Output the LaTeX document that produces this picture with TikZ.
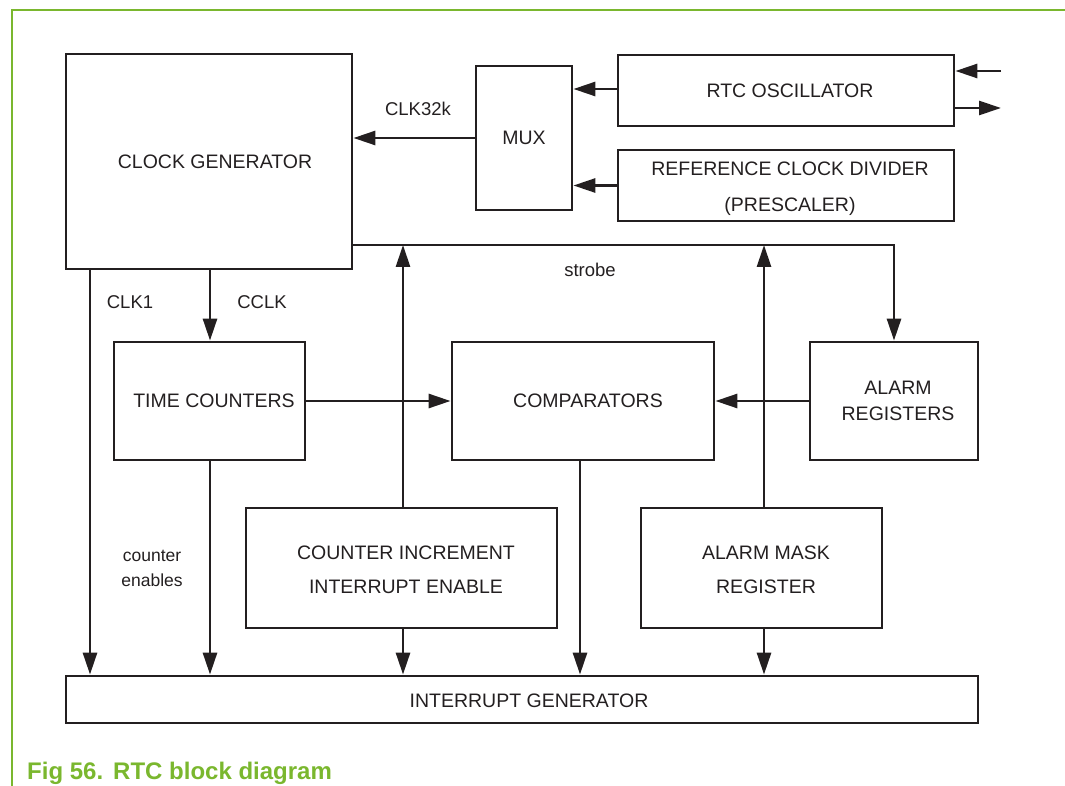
\documentclass[tikz,border=0pt]{standalone}
\usepackage{fontspec}
\setmainfont{Liberation Sans}
\usetikzlibrary{arrows.meta}
\definecolor{ink}{HTML}{231F20}
\definecolor{nxpgreen}{HTML}{7AB72E}
\tikzset{
  box/.style={draw=ink, line width=2.8pt, inner sep=0pt},
  btext/.style={text=ink, align=center, inner sep=0pt, font=\fontsize{19.5}{36}\selectfont},
  wire/.style={draw=ink, line width=2.8pt, -{Triangle[length=22pt,width=14pt]}},
  lbl/.style={text=ink, font=\fontsize{18.5}{25}\selectfont, inner sep=0pt, align=center},
}
\begin{document}
\begin{tikzpicture}[x=1pt,y=-1pt]
\useasboundingbox (0,0) rectangle (1065,786);
% frame
\draw[nxpgreen, line width=1.6pt] (12,786) -- (12,10) -- (1065,10);
\node[anchor=base west, text=nxpgreen, inner sep=0pt, font=\fontsize{24}{27}\selectfont\bfseries] (cap) at (27,779) {Fig 56.\hspace{10pt}RTC block diagram};
% boxes
\node[box, minimum width=286pt, minimum height=215pt] (cg) at (209,161.5) {};
\node[btext] (cgt) at (215,161.5) {CLOCK GENERATOR};
\node[box, minimum width=96pt, minimum height=144pt] (mux) at (524,138) {};
\node[btext] (muxt) at (524,138) {MUX};
\node[box, minimum width=336pt, minimum height=71pt] (osc) at (786,90.5) {};
\node[btext] (osct) at (790,90.5) {RTC OSCILLATOR};
\node[box, minimum width=336pt, minimum height=71pt] (ref) at (786,185.5) {};
\node[btext] (reft) at (790,189) {REFERENCE CLOCK DIVIDER\\(PRESCALER)};
\node[box, minimum width=191pt, minimum height=118pt] (tc) at (209.5,401) {};
\node[btext] (tct) at (214,401) {TIME COUNTERS};
\node[box, minimum width=262pt, minimum height=118pt] (cmp) at (583,401) {};
\node[btext] (cmpt) at (588,401) {COMPARATORS};
\node[box, minimum width=168pt, minimum height=118pt] (ar) at (894,401) {};
\node[btext, font=\fontsize{19.5}{26}\selectfont] (art) at (898,401) {ALARM\\REGISTERS};
\node[box, minimum width=311pt, minimum height=120pt] (cie) at (401.5,568) {};
\node[btext, font=\fontsize{19.5}{34}\selectfont] (ciet) at (406,570) {COUNTER INCREMENT\\INTERRUPT ENABLE};
\node[box, minimum width=241pt, minimum height=120pt] (am) at (761.5,568) {};
\node[btext, font=\fontsize{19.5}{34}\selectfont] (amt) at (766,570) {ALARM MASK\\REGISTER};
\node[box, minimum width=912pt, minimum height=47pt] (ig) at (522,699.5) {};
\node[btext] (igt) at (529,701) {INTERRUPT GENERATOR};
% external oscillator pins
\coordinate (xin) at (1001,71);
\coordinate (xout) at (1001,108);
\draw[wire] (xin) -- (osc.east |- xin);
\draw[wire] (osc.east |- xout) -- (xout);
% mux connections
\draw[wire] (osc.west |- 0,89) -- (mux.east |- 0,89);
\draw[wire] (ref.west) -- (mux.east |- ref.west);
\draw[wire] (mux.west) -- (cg.east |- mux.west);
\node[lbl] (l32) at (418,109) {CLK32k};
% strobe
\coordinate (sb) at (894,245);
\draw[wire] (cg.east |- sb) -- (sb) -- (ar.north);
\node[lbl] (lstrobe) at (590,270) {strobe};
\draw[wire] (cie.north -| 403,0) -- (403,245);
\draw[wire] (am.north -| 764,0) -- (764,245);
% clock outputs
\draw[wire] (cg.south -| 90,0) -- (ig.north -| 90,0);
\node[lbl] (lclk1) at (130,302) {CLK1};
\draw[wire] (cg.south -| 210,0) -- (tc.north -| 210,0);
\node[lbl] (lcclk) at (262,302) {CCLK};
% comparators inputs
\draw[wire] (tc.east) -- (cmp.west);
\draw[wire] (ar.west) -- (cmp.east);
% to interrupt generator
\draw[wire] (tc.south -| 210,0) -- (ig.north -| 210,0);
\node[lbl, font=\fontsize{17.5}{25}\selectfont] (lce) at (152,568) {counter\\enables};
\draw[wire] (cie.south -| 403,0) -- (ig.north -| 403,0);
\draw[wire] (cmp.south -| 580,0) -- (ig.north -| 580,0);
\draw[wire] (am.south -| 764,0) -- (ig.north -| 764,0);
\end{tikzpicture}
\end{document}
